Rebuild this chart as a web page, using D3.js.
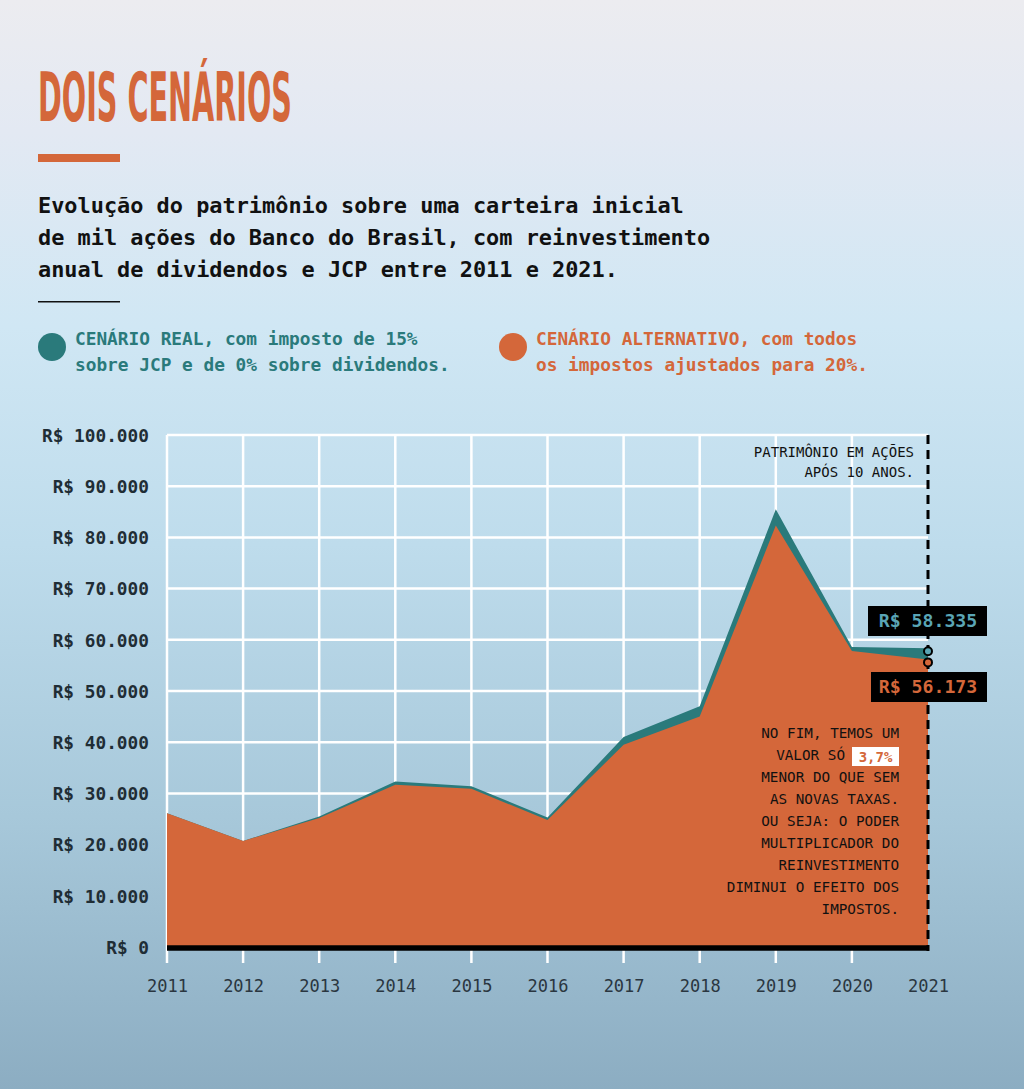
<!DOCTYPE html>
<html><head><meta charset="utf-8">
<script src="https://cdn.jsdelivr.net/npm/d3@7"></script>
<style>body{margin:0;}svg{display:block;}</style>
</head><body>
<svg id="c" width="1024" height="1089"></svg>
<script>
const years = [2011,2012,2013,2014,2015,2016,2017,2018,2019,2020,2021];
const realValues = [26100,20700,25500,32300,31400,25300,41000,47000,85500,58600,58335];
const altValues  = [26100,20700,25200,31700,30900,24800,39500,45000,82300,57800,56173];
const yTicks = [0,10000,20000,30000,40000,50000,60000,70000,80000,90000,100000];
const noteLines = ["NO FIM, TEMOS UM","VALOR SÓ","MENOR DO QUE SEM","AS NOVAS TAXAS.","OU SEJA: O PODER","MULTIPLICADOR DO","REINVESTIMENTO","DIMINUI O EFEITO DOS","IMPOSTOS."];
const subtitleLines = ["Evolução do patrimônio sobre uma carteira inicial","de mil ações do Banco do Brasil, com reinvestimento","anual de dividendos e JCP entre 2011 e 2021."];

const ORANGE = "#d4673a", TEAL = "#2a7a7b", MONO = "'DejaVu Sans Mono', 'Liberation Mono', monospace";
const svg = d3.select("#c");

// background
const defs = svg.append("defs");
const g = defs.append("linearGradient").attr("id","bg").attr("x1",0).attr("y1",0).attr("x2",0).attr("y2",1);
[[0,"#ececf0"],[0.12,"#e3e9f3"],[0.3,"#d0e7f4"],[0.5,"#bedcec"],[0.75,"#a7c8da"],[1,"#8cadc2"]].forEach(s=>g.append("stop").attr("offset",s[0]).attr("stop-color",s[1]));
svg.append("rect").attr("width",1024).attr("height",1089).attr("fill","url(#bg)");

// title
svg.append("text").attr("x",38).attr("y",121).text("DOIS CENÁRIOS")
  .attr("font-family","'Liberation Sans Narrow','DejaVu Sans Condensed',Roboto,sans-serif")
  .attr("font-weight",700).attr("font-size",68).attr("fill",ORANGE)
  .attr("textLength",254).attr("lengthAdjust","spacingAndGlyphs");
svg.append("rect").attr("x",38).attr("y",154).attr("width",82).attr("height",8).attr("fill",ORANGE);

// subtitle
svg.append("g").selectAll("text").data(subtitleLines).join("text")
  .attr("x",38).attr("y",(d,i)=>213+i*32).text(d=>d)
  .attr("font-family",MONO).attr("font-weight",700).attr("font-size",21.9).attr("fill","#111");
svg.append("rect").attr("x",38).attr("y",301).attr("width",82).attr("height",1.5).attr("fill","#111");

// legend
function legend(cx, color, bold, rest, line2){
  svg.append("circle").attr("cx",cx).attr("cy",347).attr("r",14).attr("fill",color);
  const t = svg.append("text").attr("x",cx+23).attr("y",345).attr("font-family",MONO).attr("font-size",17.8).attr("fill",color).attr("font-weight",700);
  t.append("tspan").text(bold);
  t.append("tspan").text(rest);
  svg.append("text").attr("x",cx+23).attr("y",371).attr("font-family",MONO).attr("font-weight",700).attr("font-size",17.8).attr("fill",color).text(line2);
}
legend(52, TEAL, "CENÁRIO REAL", ", com imposto de 15%", "sobre JCP e de 0% sobre dividendos.");
legend(513, ORANGE, "CENÁRIO ALTERNATIVO", ", com todos", "os impostos ajustados para 20%.");

// scales
const x = d3.scalePoint().domain(years).range([167,928]);
const y = d3.scaleLinear().domain([0,100000]).range([947,435]);

// grid
const grid = svg.append("g");
grid.selectAll("line.h").data(yTicks).join("line").attr("class","h")
  .attr("x1",167).attr("x2",928).attr("y1",d=>y(d)).attr("y2",d=>y(d))
  .attr("stroke","#fff").attr("stroke-width",2.5);
grid.selectAll("line.v").data(years.slice(0,-1)).join("line").attr("class","v")
  .attr("x1",d=>x(d)).attr("x2",d=>x(d)).attr("y1",435).attr("y2",963)
  .attr("stroke","#fff").attr("stroke-width",2.5);

// y axis labels
const yAxis = d3.axisLeft(y).tickValues(yTicks).tickSize(0).tickPadding(0)
  .tickFormat(d=>"R$ "+d3.format(",")(d).replace(/,/g,"."));
const ya = svg.append("g").attr("transform","translate(149,0)").call(yAxis);
ya.select(".domain").remove();
ya.selectAll("text").attr("font-family",MONO).attr("font-weight",700).attr("font-size",17.8).attr("fill","#1f2d35").attr("dy","0.35em");

// x axis labels
const xAxis = d3.axisBottom(x).tickSize(0).tickPadding(0);
const xa = svg.append("g").attr("transform","translate(0,992)").call(xAxis);
xa.select(".domain").remove();
xa.selectAll("text").attr("font-family",MONO).attr("font-size",17).attr("fill","#2a3640").attr("dy",0);

// areas
const idx = years.map((d,i)=>i);
const areaReal = d3.area().x(i=>x(years[i])).y0(y(0)).y1(i=>y(realValues[i]));
const areaAlt = d3.area().x(i=>x(years[i])).y0(y(0)).y1(i=>y(altValues[i]));
svg.append("path").attr("d",areaReal(idx)).attr("fill",TEAL);
svg.append("path").attr("d",areaAlt(idx)).attr("fill",ORANGE);

// baseline
svg.append("line").attr("x1",167).attr("x2",928).attr("y1",y(0)+1).attr("y2",y(0)+1).attr("stroke","#000").attr("stroke-width",5.5);

// dashed line
svg.append("line").attr("x1",928).attr("x2",928).attr("y1",435).attr("y2",951)
  .attr("stroke","#000").attr("stroke-width",3).attr("stroke-dasharray","9,6");

// top note
svg.append("g").selectAll("text").data(["PATRIMÔNIO EM AÇÕES","APÓS 10 ANOS."]).join("text")
  .attr("x",914).attr("y",(d,i)=>457+i*20).attr("text-anchor","end").text(d=>d)
  .attr("font-family",MONO).attr("font-size",14).attr("fill","#111");

// end circles
const last = years.length-1;
svg.append("circle").attr("cx",x(years[last])).attr("cy",y(realValues[last])+3).attr("r",4).attr("fill","#5aa5b5").attr("stroke","#000").attr("stroke-width",2);
svg.append("circle").attr("cx",x(years[last])).attr("cy",y(altValues[last])+3).attr("r",4).attr("fill",ORANGE).attr("stroke","#000").attr("stroke-width",2);

// value labels
function valLabel(yTop, w, val, color){
  svg.append("rect").attr("x",987-w).attr("y",yTop).attr("width",w).attr("height",30).attr("fill","#000");
  svg.append("text").attr("x",928).attr("y",yTop+21).attr("text-anchor","middle")
    .attr("font-family",MONO).attr("font-weight",700).attr("font-size",18.2).attr("fill",color)
    .text("R$ "+d3.format(",")(val).replace(/,/g,"."));
}
valLabel(606,119,realValues[last],"#5aa5b5");
valLabel(672,116,altValues[last],ORANGE);

// note
const nt = svg.append("g");
noteLines.forEach((l,i)=>{
  const yy = 738+i*22;
  if(i===1){
    nt.append("rect").attr("x",852).attr("y",747).attr("width",47).attr("height",19).attr("fill","#fff");
    nt.append("text").attr("x",875.5).attr("y",762).attr("text-anchor","middle").attr("font-family",MONO).attr("font-weight",700).attr("font-size",14).attr("fill",ORANGE).text("3,7%");
    nt.append("text").attr("x",845).attr("y",yy).attr("text-anchor","end").attr("font-family",MONO).attr("font-size",14.3).attr("fill","#111").text(l);
  } else {
    nt.append("text").attr("x",899).attr("y",yy).attr("text-anchor","end").attr("font-family",MONO).attr("font-size",14.3).attr("fill","#111").text(l);
  }
});
</script>
</body></html>
